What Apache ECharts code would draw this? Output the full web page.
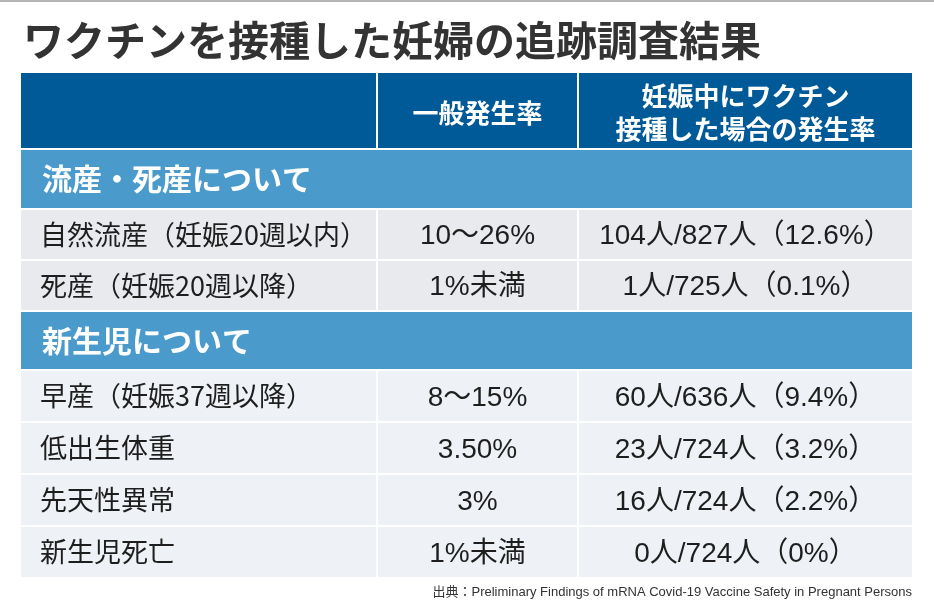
<!DOCTYPE html>
<html>
<head>
<meta charset="utf-8">
<script src="https://cdn.jsdelivr.net/npm/echarts@6/dist/echarts.min.js"></script>
<style>
html,body{margin:0;padding:0;background:#fff;}
#main{width:934px;height:611px;}
</style>
</head>
<body>
<div id="main"></div>
<script>
// ---- data ----
const chartTitle = 'ワクチンを接種した妊婦の追跡調査結果';
const headers = ['', '一般発生率', '妊娠中にワクチン\n接種した場合の発生率'];
const sections = ['流産・死産について', '新生児について'];
const group1Labels = ['自然流産（妊娠20週以内）', '死産（妊娠20週以降）'];
const group1General = ['10〜26%', '1%未満'];
const group1Vaccine = ['104人/827人（12.6%）', '1人/725人（0.1%）'];
const group2Labels = ['早産（妊娠37週以降）', '低出生体重', '先天性異常', '新生児死亡'];
const group2General = ['8〜15%', '3.50%', '3%', '1%未満'];
const group2Vaccine = ['60人/636人（9.4%）', '23人/724人（3.2%）', '16人/724人（2.2%）', '0人/724人（0%）'];
const sourceNote = '出典：Preliminary Findings of mRNA Covid-19 Vaccine Safety in Pregnant Persons';

// ---- layout ----
const colEdges = [0, 355, 556, 891];
const GAP = 2;
const rowSlots = [
  { kind: 'header', h: 77 },
  { kind: 'section', h: 60, sec: 0 },
  { kind: 'row', h: 51, g: 1, i: 0 },
  { kind: 'row', h: 51, g: 1, i: 1 },
  { kind: 'section', h: 59, sec: 1 },
  { kind: 'row', h: 52, g: 2, i: 0 },
  { kind: 'row', h: 52, g: 2, i: 1 },
  { kind: 'row', h: 52, g: 2, i: 2 },
  { kind: 'row', h: 52, g: 2, i: 3 }
];
const COLORS = { header: '#015a98', section: '#4a9bcb', g1: '#e8eaee', g2: '#eef1f5', text: '#1e1e1e', title: '#333333' };
const JP = '"Noto Sans CJK JP", "Noto Sans", sans-serif';
const NUM = '"Liberation Sans", "Noto Sans CJK JP", sans-serif';

// build cells
const cells = [];
let yCursor = 0;
rowSlots.forEach(r => {
  const y0 = yCursor, y1 = yCursor + r.h - GAP;
  if (r.kind === 'header') {
    headers.forEach((t, c) => cells.push({ x0: colEdges[c] + (c ? GAP : 0), x1: colEdges[c + 1], y0, y1, fill: COLORS.header,
      text: t, align: 'center', color: '#fff', font: JP, size: 26, weight: 'bold', lh: 33, dy: 2.5 }));
  } else if (r.kind === 'section') {
    cells.push({ x0: 0, x1: colEdges[3], y0, y1, fill: COLORS.section, text: sections[r.sec], align: 'left', pad: 21,
      color: '#fff', font: JP, size: 30, weight: 'bold', dy: 0 });
  } else {
    const labels = r.g === 1 ? group1Labels : group2Labels;
    const gen = r.g === 1 ? group1General : group2General;
    const vac = r.g === 1 ? group1Vaccine : group2Vaccine;
    const fill = r.g === 1 ? COLORS.g1 : COLORS.g2;
    cells.push({ x0: 0, x1: colEdges[1], y0, y1, fill, text: labels[r.i], align: 'left', pad: 19, color: COLORS.text, font: JP, size: 27, weight: 'normal', dy: 0 });
    cells.push({ x0: colEdges[1] + GAP, x1: colEdges[2], y0, y1, fill, text: gen[r.i], align: 'center', color: COLORS.text, font: NUM, size: 28, weight: 'normal', dy: 2 });
    cells.push({ x0: colEdges[2] + GAP, x1: colEdges[3], y0, y1, fill, text: vac[r.i], align: 'center', color: COLORS.text, font: NUM, size: 28, weight: 'normal', dy: 2 });
  }
  yCursor += r.h;
});
const tableHeight = yCursor;

const chart = echarts.init(document.getElementById('main'), null, { renderer: 'canvas' });
chart.setOption({
  backgroundColor: '#ffffff',
  animation: false,
  title: [
    { text: chartTitle, left: 18, top: 15, textStyle: { fontFamily: JP, fontSize: 41, fontWeight: 'bold', color: COLORS.title } },
    { text: sourceNote, right: 17, top: 581, textStyle: { fontFamily: NUM, fontSize: 13, fontWeight: 'normal', color: '#333' } }
  ],
  graphic: [
    { type: 'rect', shape: { x: 0, y: 0, width: 934, height: 2 }, style: { fill: '#b4b4b4' } }
  ],
  grid: { left: 21, top: 73, width: colEdges[3], height: tableHeight, containLabel: false },
  xAxis: { type: 'value', min: 0, max: colEdges[3], show: false },
  yAxis: { type: 'value', min: 0, max: tableHeight, inverse: true, show: false },
  series: [{
    type: 'custom',
    coordinateSystem: 'cartesian2d',
    clip: false,
    data: cells.map(c => [c.x0, c.y0, c.x1, c.y1]),
    renderItem: function (params, api) {
      const c = cells[params.dataIndex];
      const p0 = api.coord([api.value(0), api.value(1)]);
      const p1 = api.coord([api.value(2), api.value(3)]);
      const w = p1[0] - p0[0], h = p1[1] - p0[1];
      const tx = c.align === 'center' ? p0[0] + w / 2 : p0[0] + (c.pad || 0);
      return {
        type: 'group',
        children: [
          { type: 'rect', shape: { x: p0[0], y: p0[1], width: w, height: h }, style: { fill: c.fill } },
          { type: 'text', style: { x: tx, y: p0[1] + h / 2 + (c.dy || 0), text: c.text, fill: c.color,
              fontFamily: c.font, fontSize: c.size, fontWeight: c.weight, lineHeight: c.lh || Math.round(c.size * 1.3),
              align: c.align, verticalAlign: 'middle' } }
        ]
      };
    }
  }]
});
</script>
</body>
</html>
